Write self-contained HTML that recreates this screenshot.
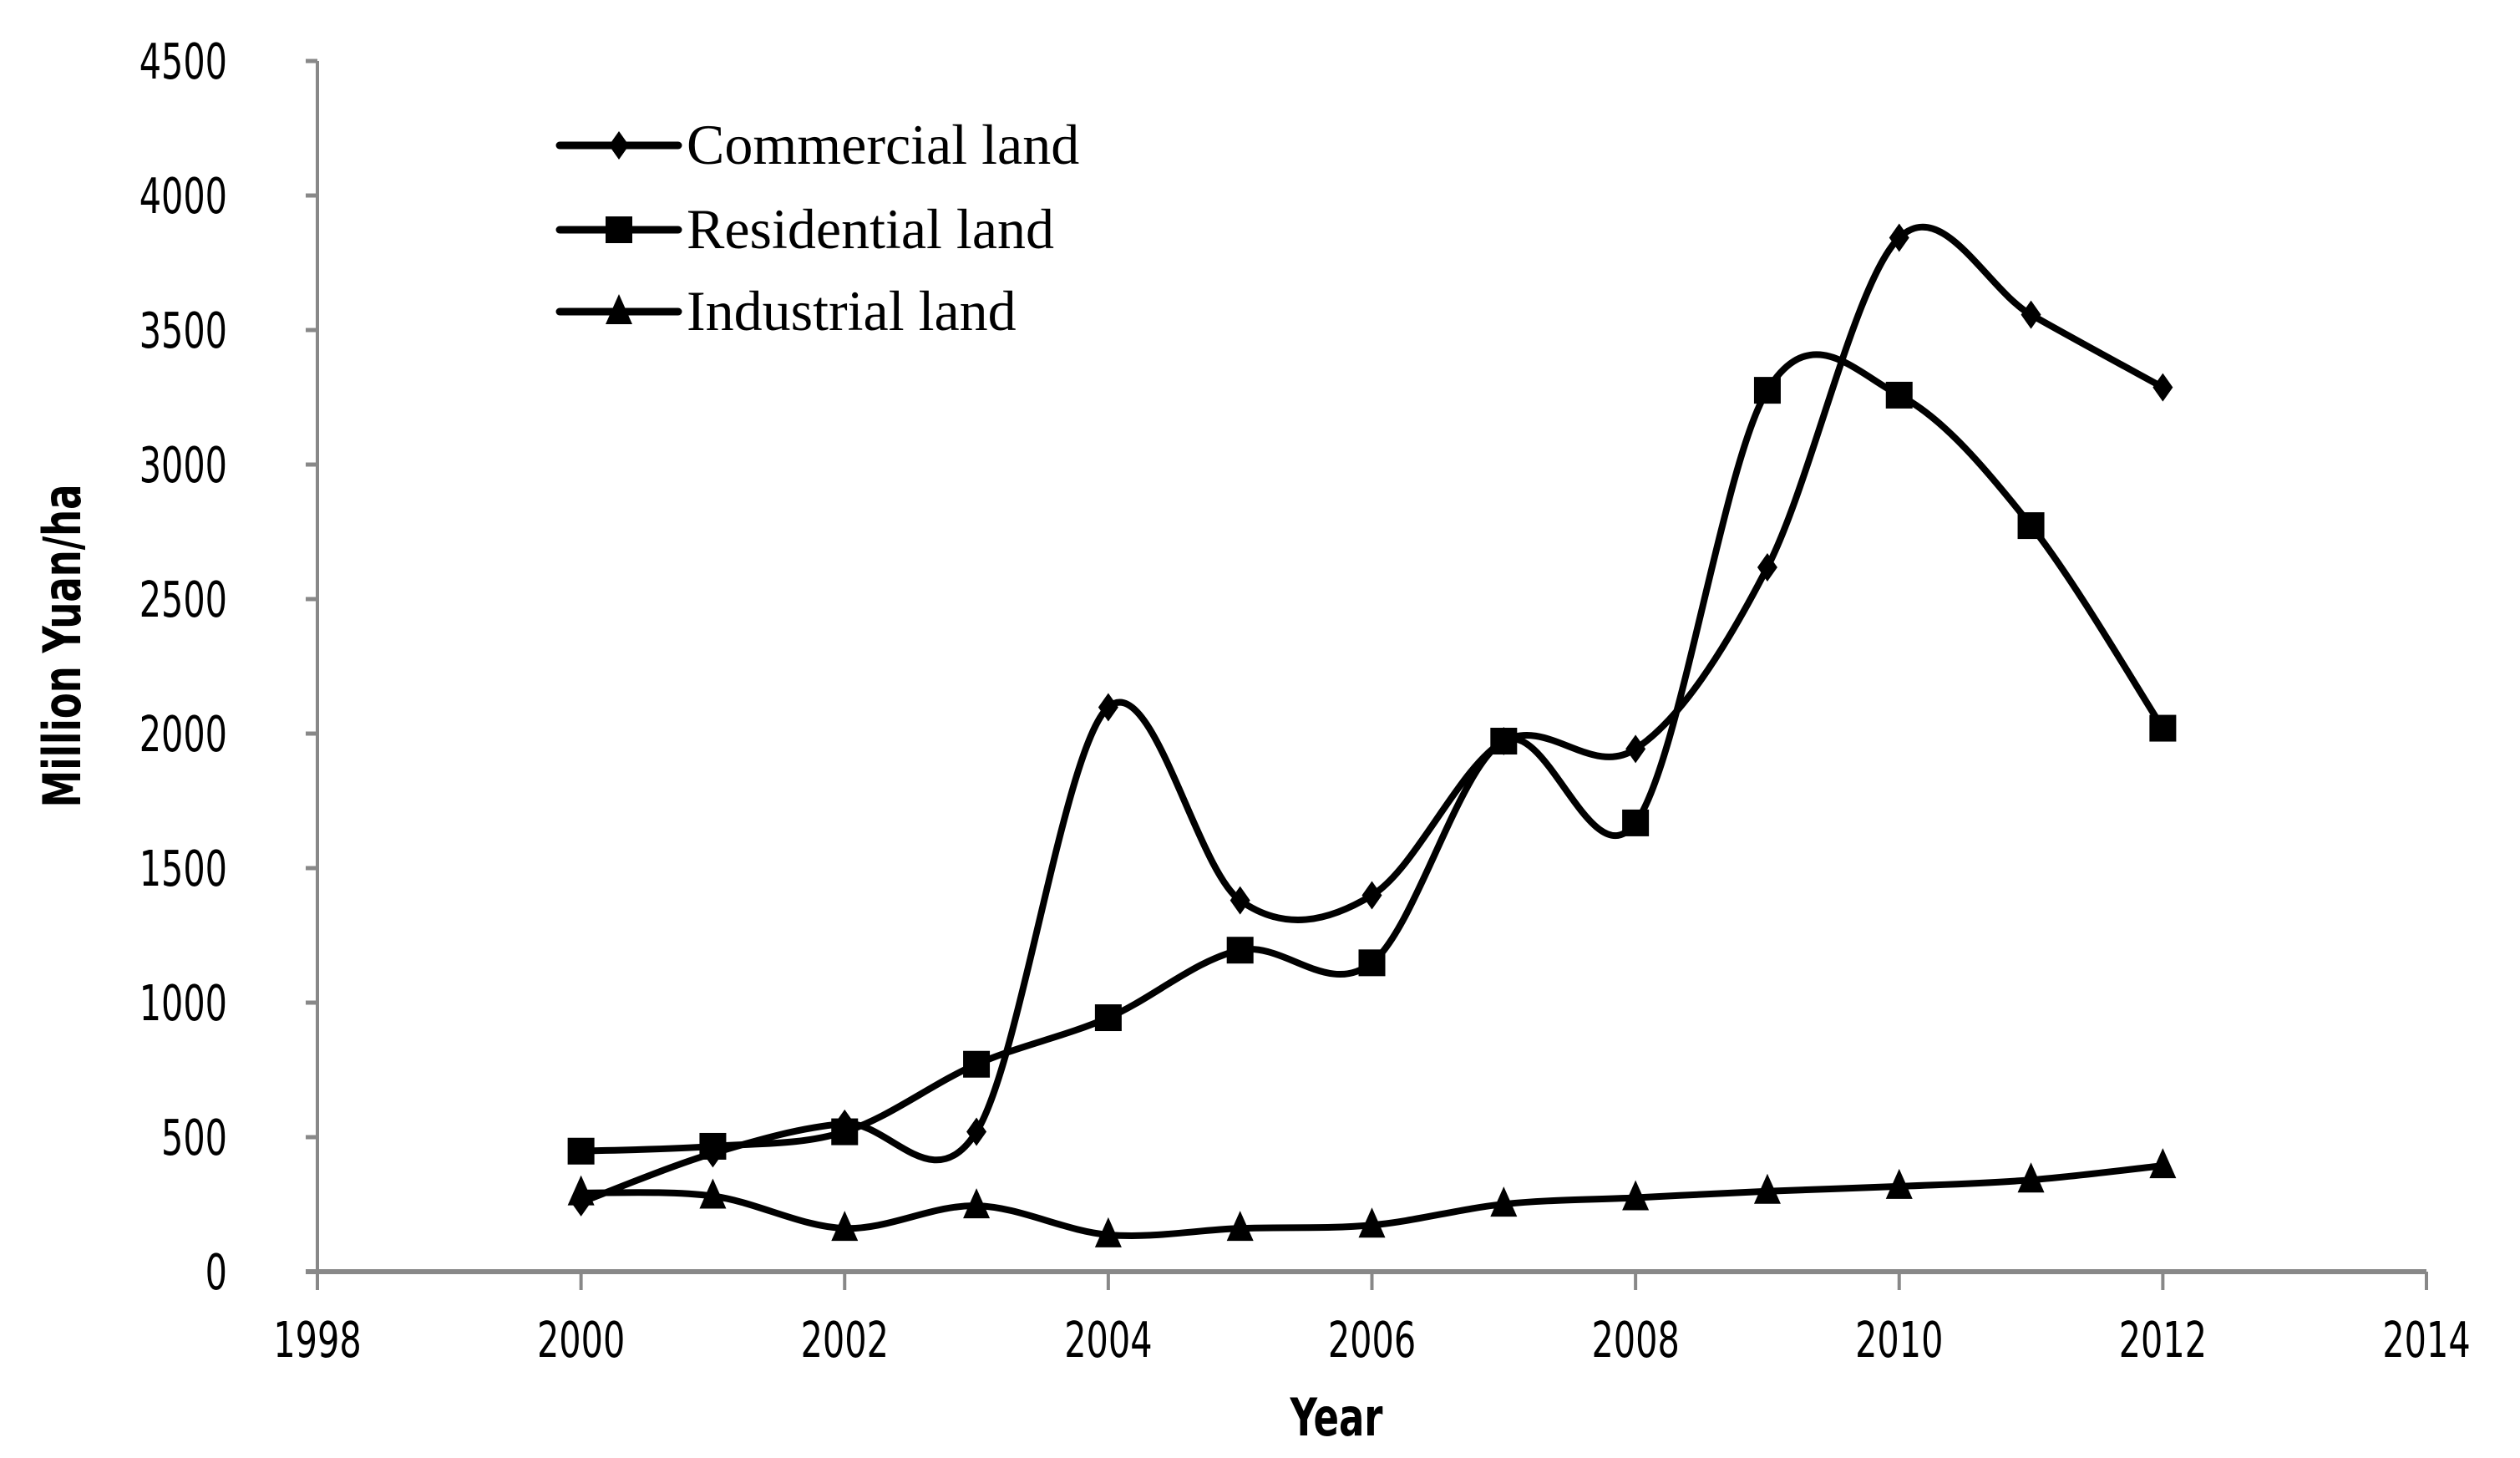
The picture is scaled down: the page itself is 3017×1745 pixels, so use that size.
<!DOCTYPE html>
<html><head><meta charset="utf-8"><style>
html,body{margin:0;padding:0;background:#fff;}
svg{display:block;}
.tick{font-family:"DejaVu Sans Condensed","Liberation Sans",sans-serif;font-size:46px;fill:#000;}
.leg{font-family:"Liberation Serif",serif;font-size:68px;fill:#000;}
.ttl{font-family:"DejaVu Sans Condensed","Liberation Sans",sans-serif;font-size:50px;font-weight:bold;fill:#000;}
</style></head><body>
<svg id="chart" width="3017" height="1745" viewBox="0 0 3017 1745" xmlns="http://www.w3.org/2000/svg">
<g id="axes"></g>
<g id="series"></g>
<g id="legend"></g>
<text class="ttl" x="0" y="0" text-anchor="middle" transform="translate(1600,1718) scale(1,1.25)">Year</text>
<text class="ttl" x="0" y="0" text-anchor="middle" transform="translate(96,773) rotate(-90) scale(1,1.25)">Million Yuan/ha</text>
</svg>
<script>
const years = [2000,2001,2002,2003,2004,2005,2006,2007,2008,2009,2010,2011,2012];
const commercial = [258,440,550,520,2098,1380,1399,1972,1943,2618,3843,3557,3287];
const residential = [448,466,520,771,944,1195,1148,1972,1668,3276,3258,2773,2020];
const industrial = [293,281,161,245,137,161,173,251,275,299,317,341,394];
const xTicks = [1998,2000,2002,2004,2006,2008,2010,2012,2014];
const yTicks = [0,500,1000,1500,2000,2500,3000,3500,4000,4500];
const seriesNames = ["Commercial land","Residential land","Industrial land"];

const X0=380, X1=2905, Y0=1522, Y1=73;
function xs(v){return X0+(v-1998)/(2014-1998)*(X1-X0);}
function ys(v){return Y0-(v/4500)*(Y0-Y1);}
const NS="http://www.w3.org/2000/svg";
function mk(tag,attrs,parent){const e=document.createElementNS(NS,tag);for(const k in attrs)e.setAttribute(k,attrs[k]);parent.appendChild(e);return e;}
const axes=document.getElementById('axes');
let yl=mk('line',{x1:X0,y1:Y1,x2:X0,y2:Y0,stroke:'#888','stroke-width':4},axes);


yTicks.forEach(v=>{
  const t=mk('line',{x1:X0-14,y1:ys(v),x2:X0,y2:ys(v),stroke:'#888','stroke-width':5},axes);
  
  
  const l=mk('text',{x:0,y:0,'text-anchor':'end',class:'tick',transform:`translate(272,${ys(v)+21}) scale(1,1.28)`},axes);
  l.textContent=v;
  
  
});
xTicks.forEach(v=>{
  const t=mk('line',{x1:xs(v),y1:Y0,x2:xs(v),y2:Y0+22,stroke:'#888','stroke-width':4},axes);
  
  
  const l=mk('text',{x:0,y:0,'text-anchor':'middle',class:'tick',transform:`translate(${xs(v)},${Y0+102}) scale(1,1.28)`},axes);
  l.textContent=v;
  
  
});
let xl=mk('line',{x1:X0-14,y1:Y0,x2:X1,y2:Y0,stroke:'#888','stroke-width':6},axes);



function smoothPath(pts){
  let d='M'+pts[0][0]+','+pts[0][1];
  for(let i=0;i<pts.length-1;i++){
    const p0=pts[Math.max(0,i-1)],p1=pts[i],p2=pts[i+1],p3=pts[Math.min(pts.length-1,i+2)];
    const t=1/6;
    const c1=[p1[0]+(p2[0]-p0[0])*t,p1[1]+(p2[1]-p0[1])*t];
    const c2=[p2[0]-(p3[0]-p1[0])*t,p2[1]-(p3[1]-p1[1])*t];
    d+=' C'+c1+' '+c2+' '+p2;
  }
  return d;
}
function marker(type,x,y,g){
  let e;
  if(type===0) e=mk('polygon',{points:`${x},${y-17} ${x+12},${y} ${x},${y+17} ${x-12},${y}`,fill:'#000'},g);
  else if(type===1) e=mk('rect',{x:x-16,y:y-16,width:32,height:32,fill:'#000'},g);
  else e=mk('polygon',{points:`${x},${y-21} ${x+16},${y+15} ${x-16},${y+15}`,fill:'#000'},g);
  return e;
}
const sg=document.getElementById('series');
const names=['commercial-series','residential-series','industrial-series'];
[commercial,residential,industrial].forEach((vals,si)=>{
  const g=mk('g',{},sg);
  
  
  const pts=vals.map((v,i)=>[xs(years[i]),ys(v)]);
  const p=mk('path',{d:smoothPath(pts),fill:'none',stroke:'#000','stroke-width':8},g);
  
  
  pts.forEach(pt=>{
    const m=marker(si,pt[0],pt[1],g);
    
    
  });
});
const lg=document.getElementById('legend');
[174,275,373].forEach((y,i)=>{
  const l=mk('line',{x1:670,y1:y,x2:812,y2:y,stroke:'#000','stroke-width':9,'stroke-linecap':'round'},lg);
  
  
  const m=marker(i,741,y,lg);
  
  
  const t=mk('text',{x:822,y:y+22,class:'leg'},lg);
  t.textContent=seriesNames[i];
  
  
});
</script>
</body></html>
